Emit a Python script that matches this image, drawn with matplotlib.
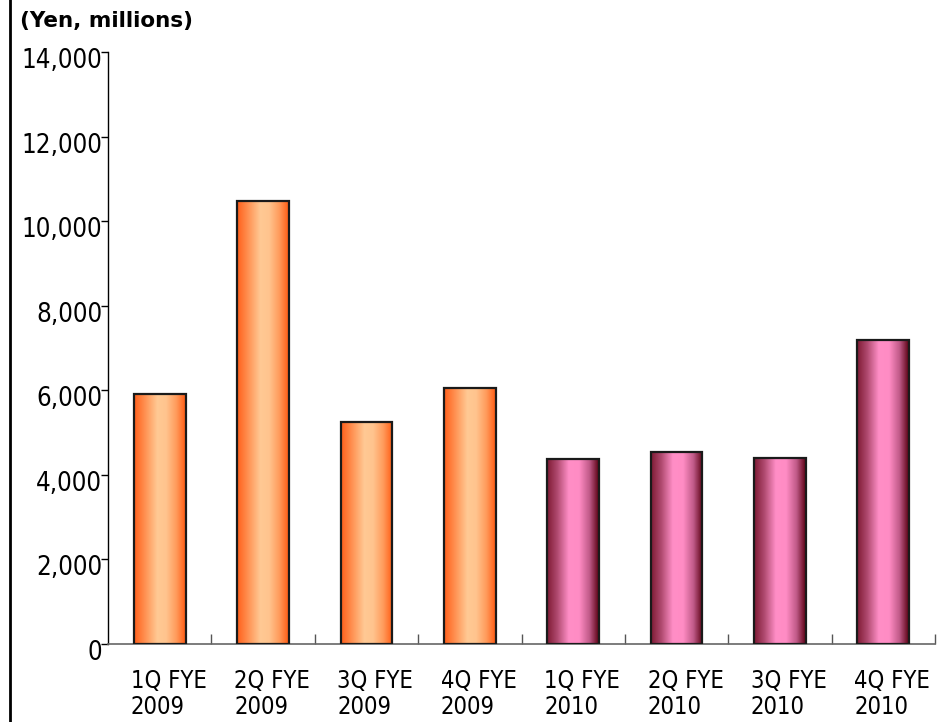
import numpy as np
import matplotlib
matplotlib.use("Agg")
import matplotlib.pyplot as plt
import matplotlib.transforms as mtrans
from matplotlib.colors import LinearSegmentedColormap
from matplotlib.lines import Line2D
from matplotlib import font_manager

# quarterly figures, yen millions
quarters = ["1Q FYE\n2009", "2Q FYE\n2009", "3Q FYE\n2009", "4Q FYE\n2009",
            "1Q FYE\n2010", "2Q FYE\n2010", "3Q FYE\n2010", "4Q FYE\n2010"]
values = [5910, 10480, 5250, 6050, 4380, 4540, 4410, 7190]
fiscal_year = [2009, 2009, 2009, 2009, 2010, 2010, 2010, 2010]
yticks = [0, 2000, 4000, 6000, 8000, 10000, 12000, 14000]

cond = font_manager.FontProperties(family="DejaVu Sans", stretch="condensed")

# cylinder-ish shading across each bar
orange = LinearSegmentedColormap.from_list(
    "orange", [(0, "#ff5f1a"), (0.25, "#ff9a5c"), (0.45, "#ffc994"),
               (0.62, "#ffc48e"), (0.82, "#ff9a5a"), (1, "#ff5a12")])
pink = LinearSegmentedColormap.from_list(
    "pink", [(0, "#7e1a33"), (0.2, "#b04a70"), (0.42, "#ff8ec6"),
             (0.62, "#ff8cc4"), (0.82, "#c05a88"), (1, "#5a0012")])

fig = plt.figure(figsize=(9.48, 7.22), dpi=100)
ax = fig.add_axes([108 / 948, 78 / 722, 827 / 948, 592 / 722])

x = np.arange(len(values))
bars = ax.bar(x, values, width=0.5, color="none", edgecolor="#1a1a1a",
              linewidth=1.6, zorder=3)

grad = np.linspace(0, 1, 256).reshape(1, -1)
for b, yr in zip(bars, fiscal_year):
    cmap = orange if yr == 2009 else pink
    im = ax.imshow(grad, cmap=cmap, aspect="auto", zorder=2,
                   extent=[b.get_x(), b.get_x() + b.get_width(), 0, b.get_height()])
    im.set_clip_path(b)

ax.set_xlim(-0.5, 7.5)
ax.set_ylim(0, 14000)
ax.set_yticks(yticks)
ax.set_yticklabels([f"{v:,}" for v in yticks], fontproperties=cond, fontsize=18.5)
ax.tick_params(axis="y", direction="out", length=5, width=1, pad=0)
down = mtrans.ScaledTranslation(1 / 100, -6 / 100, fig.dpi_scale_trans)
for lbl in ax.get_yticklabels():
    lbl.set_transform(lbl.get_transform() + down)

ax.set_xticks(x)
ax.set_xticklabels(quarters, fontproperties=cond, fontsize=17,
                   linespacing=1.12, ha="left")
ax.tick_params(axis="x", length=0, pad=18)
# labels start near each bar's left edge
offset = mtrans.ScaledTranslation(-29 / 100, 0, fig.dpi_scale_trans)
for lbl in ax.get_xticklabels():
    lbl.set_transform(lbl.get_transform() + offset)

ax.set_xticks(np.arange(0.5, 8, 1), minor=True)
ax.tick_params(axis="x", which="minor", direction="in", length=7,
               color="#555555", width=1)

ax.spines["top"].set_visible(False)
ax.spines["right"].set_visible(False)
ax.spines["bottom"].set_color("#666666")
ax.spines["bottom"].set_linewidth(1.2)
ax.spines["left"].set_linewidth(1)

fig.text(20 / 948, 1 - 21 / 722, "(Yen, millions)", fontsize=15.5,
         fontweight="bold", va="center", ha="left")
fig.add_artist(Line2D([10 / 948, 10 / 948], [0, 1], color="black", lw=2))

fig.savefig("out.png", dpi=100)
